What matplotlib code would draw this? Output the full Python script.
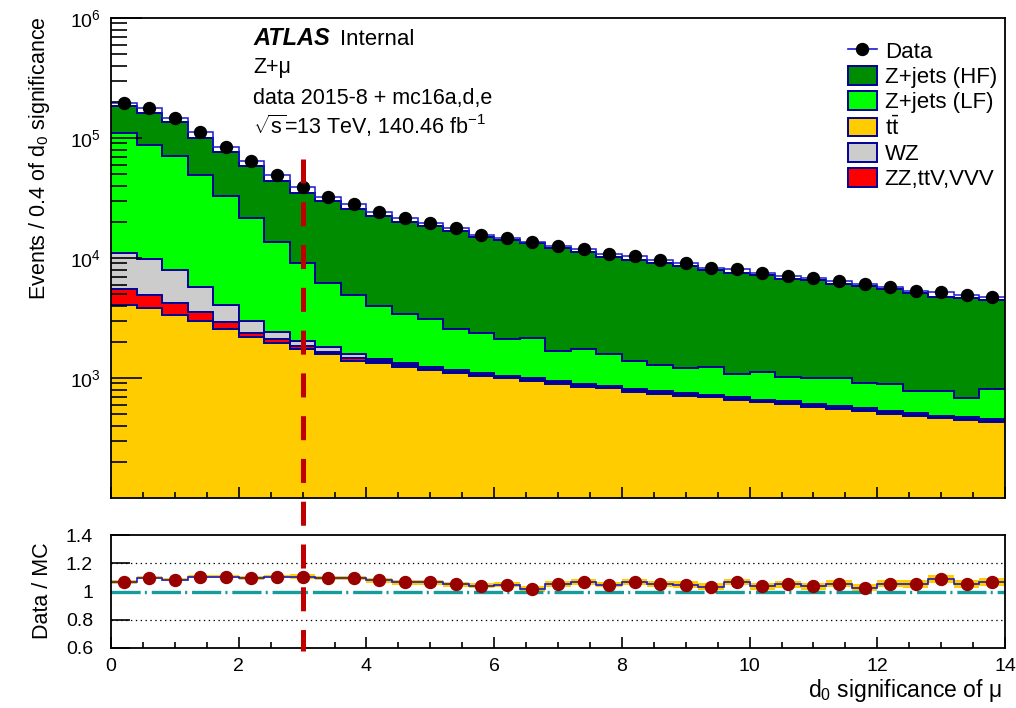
import numpy as np
import matplotlib
matplotlib.use("Agg")
import matplotlib.pyplot as plt
from matplotlib import ticker, transforms
from matplotlib.lines import Line2D
from matplotlib.patches import Patch

plt.rcParams["font.family"] = ["Liberation Sans", "DejaVu Sans"]
plt.rcParams["mathtext.fontset"] = "custom"
plt.rcParams["mathtext.rm"] = "Liberation Sans"
plt.rcParams["mathtext.it"] = "Liberation Sans:italic"
plt.rcParams["mathtext.bf"] = "Liberation Sans:bold"
plt.rcParams["lines.scale_dashes"] = False

# d0 significance binning: 35 bins of 0.4
bin_width = 0.4
n_bins = 35
d0_cut = 3.0

data = [197000, 177000, 146000, 111600, 84600, 64300, 48900, 38800, 32500, 28200,
        24000, 21400, 19600, 17800, 15600, 14800, 13500, 12700, 11900, 10800,
        10300, 9620, 9030, 8200, 8050, 7540, 7080, 6860, 6430, 6040,
        5770, 5340, 5170, 4920, 4760]

ttbar = [4055, 3808, 3329, 2985, 2559, 2183, 1946, 1734, 1570, 1393,
         1327, 1242, 1166, 1107, 1039, 994, 950, 898, 847, 820,
         769, 736, 712, 691, 656, 628, 610, 577, 552, 531,
         504, 482, 462, 447, 430]

others = [1425, 1112, 913, 543, 352, 175, 155, 115, 90, 60,
          45, 40, 30, 24, 23, 22, 21, 20, 19, 18,
          17, 16, 16, 15, 14, 14, 13, 13, 12, 12,
          11, 11, 10, 10, 10]

wz = [5460, 4830, 3700, 2240, 1144, 644, 303, 185, 135, 120,
      80, 60, 45, 30, 28, 27, 26, 24, 23, 22,
      21, 20, 19, 18, 18, 17, 16, 15, 15, 14,
      13, 13, 12, 12, 11]

zjets_lf = [99760, 77720, 63258, 43412, 28985, 18668, 11276, 7107, 4399, 3372,
            2553, 2073, 1861, 1415, 1281, 1058, 1145, 747, 845, 725,
            586, 504, 458, 518, 386, 469, 386, 401, 427, 357,
            358, 277, 299, 208, 354]

zjets_hf = [74100, 73880, 63600, 51720, 43450, 36940, 30530, 25940, 23440, 20770,
            18260, 16700, 15320, 14370, 12630, 12000, 11110, 10350, 9430, 8705,
            8270, 7880, 7400, 6680, 6480, 6140, 5715, 5610, 5090, 4970,
            4585, 4280, 3970, 3990, 3660]

ratio_unc = [0.012, 0.012, 0.012, 0.013, 0.013, 0.014, 0.014, 0.015, 0.015, 0.016,
             0.016, 0.017, 0.017, 0.018, 0.018, 0.019, 0.019, 0.020, 0.020, 0.021,
             0.021, 0.022, 0.022, 0.023, 0.023, 0.024, 0.024, 0.025, 0.025, 0.026,
             0.026, 0.027, 0.027, 0.028, 0.028]

navy = "#000099"
data_blue = "#1a1acc"
stack = [
    (ttbar, "#ffcc00", r"$\mathrm{t\bar{t}}$"),
    (others, "#ff0000", "ZZ,ttV,VVV"),
    (wz, "#cccccc", "WZ"),
    (zjets_lf, "#00ff00", "Z+jets (LF)"),
    (zjets_hf, "#008c00", "Z+jets (HF)"),
]

edges = np.arange(n_bins + 1) * bin_width
centers = edges[:-1] + bin_width / 2
data = np.array(data, dtype=float)

W, H = 1016, 708
fig = plt.figure(figsize=(W / 100, H / 100), dpi=100)
ax = fig.add_axes([111 / W, 1 - 498 / H, 894 / W, 480 / H])
rax = fig.add_axes([111 / W, 1 - 648 / H, 894 / W, 113 / H])

# stacked backgrounds
base = np.ones(n_bins)
tops = []
for vals, color, _ in stack:
    top = base + np.array(vals, dtype=float)
    ax.stairs(top, edges, baseline=base, fill=True, color=color, lw=0)
    tops.append(top)
    base = top
for top in tops:
    ax.stairs(top, edges, baseline=None, color=navy, lw=1.4)
total = base

ax.stairs(data, edges, baseline=None, color=data_blue, lw=1.1)
ax.plot(centers, data, "o", color="black", ms=8.6, zorder=5)

ax.set_yscale("log")
ax.set_xlim(0, 14)
ax.set_ylim(100, 1e6)
ax.yaxis.set_major_locator(ticker.FixedLocator([1e3, 1e4, 1e5, 1e6]))
ax.yaxis.set_minor_locator(ticker.LogLocator(subs=np.arange(2, 10), numticks=20))
ax.yaxis.set_minor_formatter(ticker.NullFormatter())
ax.xaxis.set_major_locator(ticker.MultipleLocator(2))
ax.xaxis.set_minor_locator(ticker.MultipleLocator(0.5))
ax.tick_params(labelbottom=False)
ax.tick_params(axis="y", which="major", direction="in", length=22, width=1.2, labelsize=14, pad=7)
ax.tick_params(axis="y", which="minor", direction="in", length=11.5, width=1.2)
ax.tick_params(axis="x", which="major", direction="in", length=8, width=1.2)
ax.tick_params(axis="x", which="minor", direction="in", length=4.3, width=1.2)

# ratio panel
ratio = data / total
unc = np.array(ratio_unc)
rax.axhline(0.8, color="black", lw=0.9, ls=(0, (1, 2.5)))
rax.axhline(1.2, color="black", lw=0.9, ls=(0, (1, 2.5)))
rax.stairs(ratio + unc, edges, baseline=ratio - unc, fill=True, color="#ffcc00", lw=0)
rax.axhline(1.0, color="#169c9c", lw=2.4, dashes=(21, 3, 1.5, 3.5))
rax.stairs(ratio, edges, baseline=None, color=data_blue, lw=1.2)
rax.plot(centers, ratio, "o", color="#990000", ms=8.6, zorder=5)
rax.set_xlim(0, 14)
rax.set_ylim(0.6, 1.4)
rax.yaxis.set_major_locator(ticker.FixedLocator([0.6, 0.8, 1.0, 1.2, 1.4]))
rax.yaxis.set_major_formatter(ticker.FormatStrFormatter("%g"))
rax.xaxis.set_major_locator(ticker.MultipleLocator(2))
rax.xaxis.set_minor_locator(ticker.MultipleLocator(0.5))
rax.tick_params(axis="y", which="major", direction="in", length=14, width=1.2, labelsize=14, pad=13)
rax.tick_params(axis="x", which="major", direction="in", length=8, width=1.2, labelsize=14, pad=7)
rax.tick_params(axis="x", which="minor", direction="in", length=4.3, width=1.2)

for a in (ax, rax):
    for s in a.spines.values():
        s.set_linewidth(1.3)

# cut on d0 significance, spanning both panels
cut_tr = transforms.blended_transform_factory(ax.transData, fig.transFigure)
fig.add_artist(Line2D([d0_cut, d0_cut], [1 - 159 / H, 1 - 651 / H], transform=cut_tr,
                      color="#c00000", lw=3.6, dashes=(17.3, 13.5), solid_capstyle="butt",
                      dash_capstyle="butt", zorder=10))

# axis titles
fig.text(40 / W, 1 - 16 / H, r"Events / 0.4 of d$_0$ significance", rotation=90,
         ha="center", va="top", fontsize=15.5)
fig.text(42 / W, 1 - 591 / H, "Data / MC", rotation=90, ha="center", va="center", fontsize=15.5)
fig.text(1002 / W, 1 - 697 / H, r"d$_0$ significance of μ", ha="right", va="baseline", fontsize=16.5)

# labels
fig.text(253 / W, 1 - 45 / H, "ATLAS", fontsize=17, weight="bold", style="italic", va="baseline")
fig.text(340 / W, 1 - 45 / H, "Internal", fontsize=16, va="baseline")
fig.text(253 / W, 1 - 73 / H, "Z+μ", fontsize=15.5, va="baseline")
fig.text(253 / W, 1 - 104 / H, "data 2015-8 + mc16a,d,e", fontsize=15.5, va="baseline")
fig.text(253 / W, 1 - 134 / H, r"$\sqrt{\mathrm{s}}$=13 TeV, 140.46 fb$^{-1}$", fontsize=15.5, va="baseline")

handles = [Line2D([], [], color=data_blue, lw=1.2, marker="o", mfc="black", mec="black", ms=8.6)]
labels = ["Data"]
for vals, color, label in reversed(stack):
    handles.append(Patch(facecolor=color, edgecolor=navy, lw=1.4))
    labels.append(label)
order = [0, 1, 2, 5, 3, 4]
fig.legend([handles[i] for i in order], [labels[i] for i in order], loc="upper left",
           bbox_to_anchor=(848 / W, 1 - 41 / H), frameon=False, fontsize=16,
           handlelength=1.3, handleheight=0.9, handletextpad=0.35, labelspacing=0.15,
           borderpad=0, borderaxespad=0)

fig.savefig("out.png", dpi=100)
